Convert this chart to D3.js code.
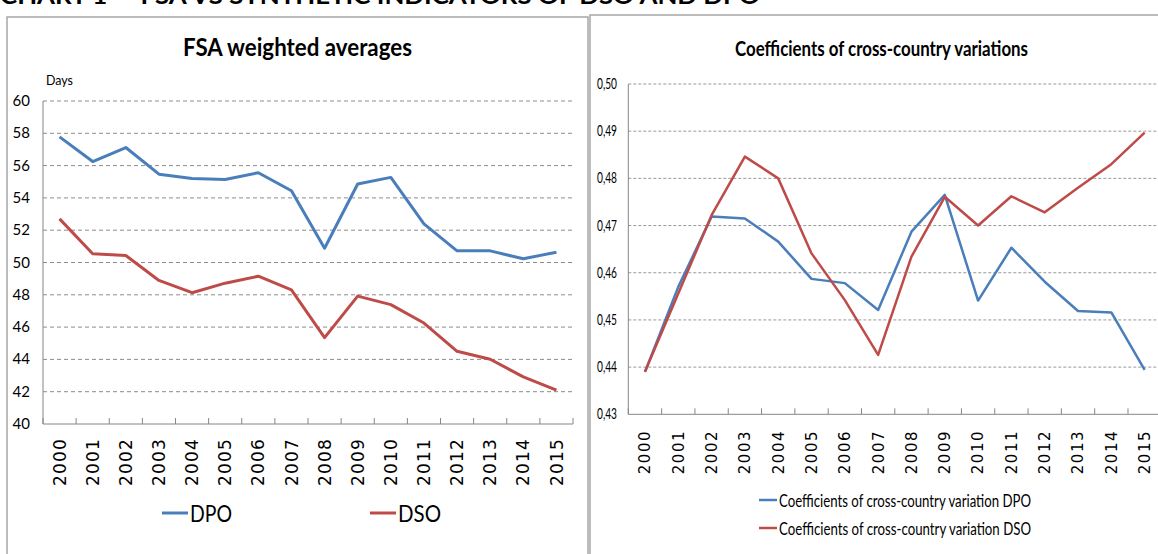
<!DOCTYPE html>
<html>
<head>
<meta charset="utf-8">
<script src="https://cdn.jsdelivr.net/npm/d3@7"></script>
<style>
  body { margin: 0; background: #fff; }
  svg { display: block; font-family: Lato, "Open Sans", sans-serif; }
</style>
</head>
<body>
<svg width="1158" height="554"></svg>
<script>
// data
const years = ["2000","2001","2002","2003","2004","2005","2006","2007",
               "2008","2009","2010","2011","2012","2013","2014","2015"];
const dpo = [57.78,56.25,57.12,55.47,55.20,55.14,55.56,54.44,
             50.88,54.86,55.27,52.39,50.72,50.72,50.23,50.64];
const dso = [52.70,50.54,50.43,48.89,48.13,48.72,49.15,48.31,
             45.35,47.92,47.39,46.25,44.50,44.01,42.92,42.10];
const cvDpo = [0.4390,0.4570,0.4719,0.4715,0.4666,0.4587,0.4578,0.4521,
               0.4687,0.4765,0.4541,0.4653,0.4581,0.4519,0.4516,0.4394];
const cvDso = [0.4390,0.4556,0.4722,0.4846,0.4800,0.4641,0.4542,0.4426,
               0.4634,0.4761,0.4700,0.4762,0.4728,0.4780,0.4830,0.4897];
const leftTicks = [40,42,44,46,48,50,52,54,56,58,60];
const rightTicks = [0.43,0.44,0.45,0.46,0.47,0.48,0.49,0.50];

const blue = "#4a7ebb";
const red = "#be4b48";
const axisGrey = "#868686";

const svg = d3.select("svg");

// page heading, cut by the top edge as in the scan
svg.append("text")
   .attr("x", 0).attr("y", 4)
   .attr("font-weight", "bold").attr("font-size", 22)
   .attr("textLength", 760).attr("lengthAdjust", "spacingAndGlyphs")
   .attr("fill", "#000")
   .text("CHART 1 \u2014 FSA VS SYNTHETIC INDICATORS OF DSO AND DPO");

// panel frames
svg.append("rect").attr("x", 7).attr("y", 17).attr("width", 581).attr("height", 600)
   .attr("fill", "none").attr("stroke", "#a6a6a6").attr("stroke-width", 1.5);
svg.append("rect").attr("x", 590).attr("y", 15).attr("width", 600).attr("height", 600)
   .attr("fill", "none").attr("stroke", "#a6a6a6").attr("stroke-width", 1.5);

function drawChart(o) {
   const g = svg.append("g");
   const x = d3.scaleBand().domain(years).range([o.x0, o.x1]);
   const y = d3.scaleLinear().domain(o.domain).range([o.y0, o.y1]);

   // grid
   g.selectAll(".grid").data(o.ticks.slice(1)).enter().append("line")
      .attr("x1", o.x0).attr("x2", o.x1)
      .attr("y1", d => y(d)).attr("y2", d => y(d))
      .attr("stroke", o.gridColor).attr("stroke-width", 1)
      .attr("stroke-dasharray", o.dash);

   // axis lines + ticks between years
   g.append("line").attr("x1", o.x0).attr("x2", o.x0).attr("y1", o.y1).attr("y2", o.y0)
      .attr("stroke", axisGrey);
   g.append("line").attr("x1", o.x0).attr("x2", o.x1).attr("y1", o.y0).attr("y2", o.y0)
      .attr("stroke", axisGrey);
   g.selectAll(".xt").data(years.concat(["end"])).enter().append("line")
      .attr("x1", (d, i) => o.x0 + i * x.step()).attr("x2", (d, i) => o.x0 + i * x.step())
      .attr("y1", o.y0).attr("y2", o.y0 - 6)
      .attr("stroke", axisGrey);

   // y labels
   g.selectAll(".yl").data(o.ticks).enter().append("text")
      .attr("x", o.labelX).attr("y", d => y(d) + o.labelDy)
      .attr("text-anchor", "end")
      .attr("font-size", o.labelSize)
      .attr("fill", "#000")
      .each(function (d) {
         const t = d3.select(this).text(o.fmt(d));
         if (o.labelLen) t.attr("textLength", o.labelLen).attr("lengthAdjust", "spacingAndGlyphs");
      });

   // year labels
   g.selectAll(".xl").data(years).enter().append("text")
      .attr("transform", d => `translate(${x(d) + x.bandwidth() / 2 + o.yearSize * 0.36},${o.yearTop}) rotate(-90)`)
      .attr("text-anchor", "end")
      .attr("font-family", "'DejaVu Sans', sans-serif")
      .attr("font-size", o.yearSize)
      .attr("letter-spacing", o.yearSpacing)
      .attr("fill", "#000")
      .text(d => d);

   // lines
   o.series.forEach(s => {
      const line = d3.line()
         .x((d, i) => x(years[i]) + x.bandwidth() / 2)
         .y(d => y(d));
      g.append("path").datum(s.values)
         .attr("d", line)
         .attr("fill", "none")
         .attr("stroke", s.color)
         .attr("stroke-width", o.lineWidth)
         .attr("stroke-linejoin", "round");
   });
}

drawChart({
   x0: 43, x1: 573, y0: 424, y1: 101,
   domain: [40, 60], ticks: leftTicks,
   fmt: d => String(d),
   labelX: 30, labelDy: 5, labelSize: 15,
   gridColor: "#8c8c8c", dash: "4,3",
   yearTop: 438, yearSize: 17, yearSpacing: 1.2,
   lineWidth: 3,
   series: [{ values: dpo, color: blue }, { values: dso, color: red }]
});

drawChart({
   x0: 628.3, x1: 1161.3, y0: 414.3, y1: 84,
   domain: [0.43, 0.50], ticks: rightTicks,
   fmt: d => d.toFixed(2).replace(".", ","),
   labelX: 617, labelDy: 5, labelSize: 15, labelLen: 20,
   gridColor: "#999999", dash: "3,2",
   yearTop: 430, yearSize: 15, yearSpacing: 1.5,
   lineWidth: 2.5,
   series: [{ values: cvDpo, color: blue }, { values: cvDso, color: red }]
});

// titles
svg.append("text").attr("x", 183).attr("y", 56)
   .attr("font-weight", "bold").attr("font-size", 24)
   .attr("textLength", 229).attr("lengthAdjust", "spacingAndGlyphs")
   .text("FSA weighted averages");
svg.append("text").attr("x", 735).attr("y", 56)
   .attr("font-weight", "bold").attr("font-size", 21)
   .attr("textLength", 293).attr("lengthAdjust", "spacingAndGlyphs")
   .text("Coefficients of cross-country variations");
svg.append("text").attr("x", 46).attr("y", 85)
   .attr("font-size", 14)
   .attr("textLength", 27).attr("lengthAdjust", "spacingAndGlyphs")
   .text("Days");

// legends
const leftLegend = [
   { label: "DPO", color: blue, x: 162, len: 42 },
   { label: "DSO", color: red, x: 370, len: 43 }
];
leftLegend.forEach(l => {
   svg.append("line").attr("x1", l.x).attr("x2", l.x + 26).attr("y1", 513).attr("y2", 513)
      .attr("stroke", l.color).attr("stroke-width", 3);
   svg.append("text").attr("x", l.x + 28).attr("y", 522)
      .attr("font-size", 24)
      .attr("textLength", l.len).attr("lengthAdjust", "spacingAndGlyphs")
      .text(l.label);
});

const rightLegend = [
   { label: "Coefficients of cross-country variation DPO", color: blue, y: 500, len: 252 },
   { label: "Coefficients of cross-country variation DSO", color: red, y: 528, len: 252 }
];
rightLegend.forEach(l => {
   svg.append("line").attr("x1", 759).attr("x2", 777).attr("y1", l.y).attr("y2", l.y)
      .attr("stroke", l.color).attr("stroke-width", 2.5);
   svg.append("text").attr("x", 779).attr("y", l.y + 7)
      .attr("font-size", 18)
      .attr("textLength", l.len).attr("lengthAdjust", "spacingAndGlyphs")
      .text(l.label);
});
</script>
</body>
</html>
